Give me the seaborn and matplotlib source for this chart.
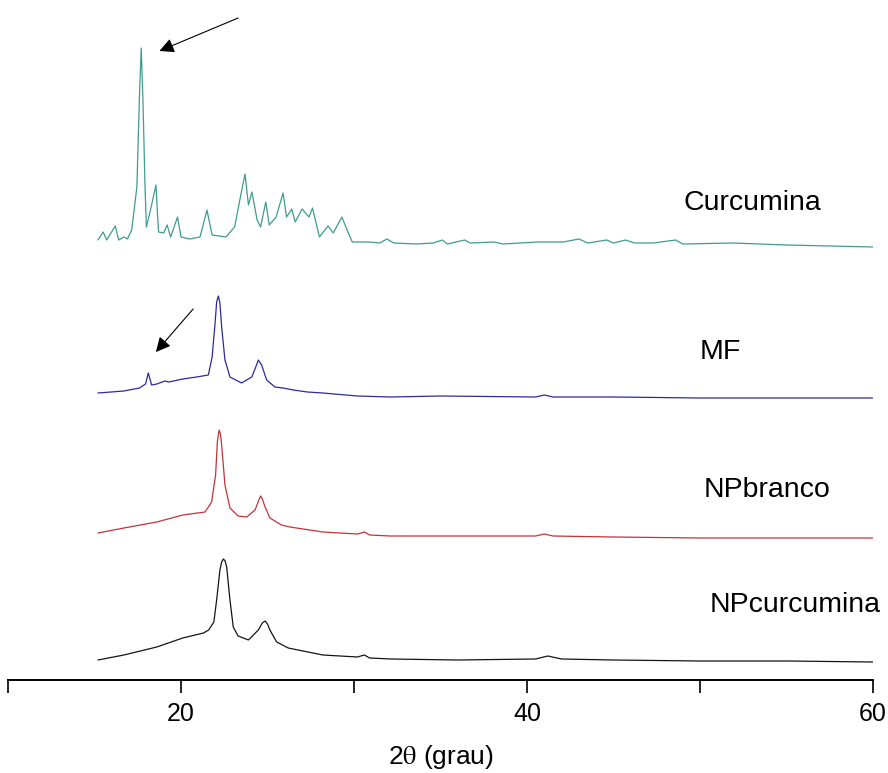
import matplotlib
matplotlib.use("Agg")
import matplotlib.pyplot as plt
import seaborn as sns
import pandas as pd

# Diffraction patterns, stacked intensity (a.u.) versus 2-theta (degrees)
curc_2theta = [15.2, 15.5, 15.7, 16.2, 16.4, 16.7, 16.9, 17.15, 17.45, 17.6, 17.7, 17.8,
               17.92, 18.0, 18.3, 18.55, 18.7, 19.0, 19.2, 19.4, 19.8, 20.0, 20.5, 21.1,
               21.5, 21.8, 22.6, 23.1, 23.4, 23.7, 23.9, 24.1, 24.4, 24.6, 24.9, 25.1,
               25.5, 25.9, 26.1, 26.4, 26.6, 27.0, 27.4, 27.6, 28.0, 28.5, 28.8, 29.3,
               29.6, 29.9, 30.9, 31.5, 31.9, 32.3, 33.6, 34.6, 35.1, 35.4, 36.4, 36.7,
               38.1, 38.6, 40.6, 42.1, 43.0, 43.5, 44.6, 45.0, 45.7, 46.2, 47.3, 48.6,
               49.0, 51.9, 55.0, 60.0]
curc_int = [440, 448, 440, 454, 440, 443, 441, 450, 493, 585, 632, 580,
            493, 453, 475, 495, 448, 447, 455, 443, 463, 443, 441, 443,
            470, 445, 443, 453, 480, 506, 475, 488, 460, 453, 478, 455,
            463, 487, 463, 471, 458, 471, 463, 472, 443, 454, 447, 463,
            450, 438, 438, 437, 441, 437, 436, 437, 440, 436, 440, 437,
            438, 436, 438, 438, 441, 437, 440, 437, 440, 437, 437, 440,
            436, 437, 435, 433]

mf_2theta = [15.2, 16.7, 17.6, 17.95, 18.11, 18.3, 18.6, 19.07, 19.3, 20.1, 20.9, 21.58,
             21.8, 21.97, 22.06, 22.16, 22.25, 22.35, 22.54, 22.83, 23.5, 24.09, 24.3,
             24.47, 24.66, 24.95, 25.43, 25.9, 26.5, 27.3, 28.2, 30.2, 32.1, 35.0, 40.5,
             41.0, 41.5, 45.0, 50.0, 55.0, 60.0]
mf_int = [287, 289, 292, 296, 307, 295, 296, 299, 298, 301, 303, 305,
          323, 357, 378, 384, 377, 353, 320, 303, 297, 303, 312,
          320, 315, 300, 293, 292, 290, 288, 287, 284, 283, 284, 283,
          285, 283, 283, 282, 282, 282]

npb_2theta = [15.2, 16.7, 18.6, 20.1, 21.39, 21.77, 22.0, 22.1, 22.2, 22.28, 22.35, 22.54,
              22.83, 23.3, 23.8, 24.28, 24.5, 24.6, 24.7, 24.86, 25.14, 25.8, 26.3, 28.2,
              30.2, 30.6, 30.9, 32.1, 36.0, 40.5, 41.0, 41.5, 45.0, 50.0, 55.0, 60.0]
npb_int = [147, 152, 158, 165, 168, 178, 205, 238, 250, 246, 235, 195,
           172, 164, 163, 170, 180, 184, 181, 173, 162, 155, 153, 148,
           146, 148, 145, 144, 144, 144, 146, 144, 143, 142, 142, 142]

npc_2theta = [15.2, 16.7, 18.6, 20.1, 21.3, 21.6, 21.9, 22.06, 22.25, 22.35, 22.45, 22.55,
              22.64, 22.83, 23.02, 23.3, 23.9, 24.47, 24.7, 24.86, 25.0, 25.14, 25.53,
              26.2, 28.2, 30.2, 30.6, 30.9, 32.1, 36.0, 40.5, 41.2, 42.0, 45.0, 50.0,
              55.0, 60.0]
npc_int = [20, 25, 33, 42, 47, 50, 58, 80, 110, 118, 121, 119,
           113, 80, 53, 44, 40, 50, 57, 59, 56, 50, 38,
           32, 25, 23, 25, 22, 21, 20, 21, 24, 21, 20, 19,
           19, 18]

sample_names = ["Curcumina", "MF", "NPbranco", "NPcurcumina"]
line_colors = ["#3f9c8f", "#2b2b9e", "#c0343a", "#151515"]

patterns = [(curc_2theta, curc_int), (mf_2theta, mf_int),
            (npb_2theta, npb_int), (npc_2theta, npc_int)]

sns.set_style("white")
plt.rcParams["font.family"] = ["Liberation Sans", "DejaVu Sans"]
plt.rcParams["mathtext.fontset"] = "stix"
plt.rcParams["text.color"] = "black"
plt.rcParams["xtick.color"] = "black"
plt.rcParams["axes.labelcolor"] = "black"

W, H = 888, 773
fig = plt.figure(figsize=(W / 100, H / 100), dpi=100)
ax = fig.add_axes([8 / W, (H - 680) / H, (873 - 8) / W, 680 / H])

for name, color, (tt, inten) in zip(sample_names, line_colors, patterns):
    df = pd.DataFrame({"2theta": tt, "I": inten})
    sns.lineplot(data=df, x="2theta", y="I", ax=ax, color=color, lw=0.9,
                 sort=False, estimator=None)

# sample labels to the right of each pattern
label_pos = [(53.0, 477), (51.2, 328), (53.9, 190), (55.5, 75)]
for name, (lx, ly) in zip(sample_names, label_pos):
    ax.text(lx, ly, name, ha="center", va="center", fontsize=20.5, color="black")

# arrows pointing to the curcumin reflection
arrow_style = dict(arrowstyle="-|>", color="black", lw=0.8, mutation_scale=22,
                   shrinkA=0, shrinkB=0)
ax.annotate("", xy=(18.75, 629), xytext=(23.3, 662), arrowprops=arrow_style)
ax.annotate("", xy=(18.55, 328), xytext=(20.7, 371), arrowprops=arrow_style)

ax.set_xlim(10, 60)
ax.set_ylim(0, 680)
for side in ["left", "right", "top"]:
    ax.spines[side].set_visible(False)
ax.spines["bottom"].set_linewidth(1.4)
ax.spines["bottom"].set_color("black")

ax.set_xticks([20, 40, 60])
ax.set_xticks([10, 30, 50], minor=True)
ax.set_yticks([])
ax.tick_params(axis="x", which="both", direction="out", length=9, width=1.2,
               color="black", labelcolor="black", bottom=True)
ax.tick_params(axis="x", which="major", labelsize=18, pad=7)
ax.set_xlabel(r"2$\mathrm{\theta}$ (grau)", fontsize=19, labelpad=12, color="black")
ax.set_ylabel("")

fig.savefig("out.png", dpi=100)
